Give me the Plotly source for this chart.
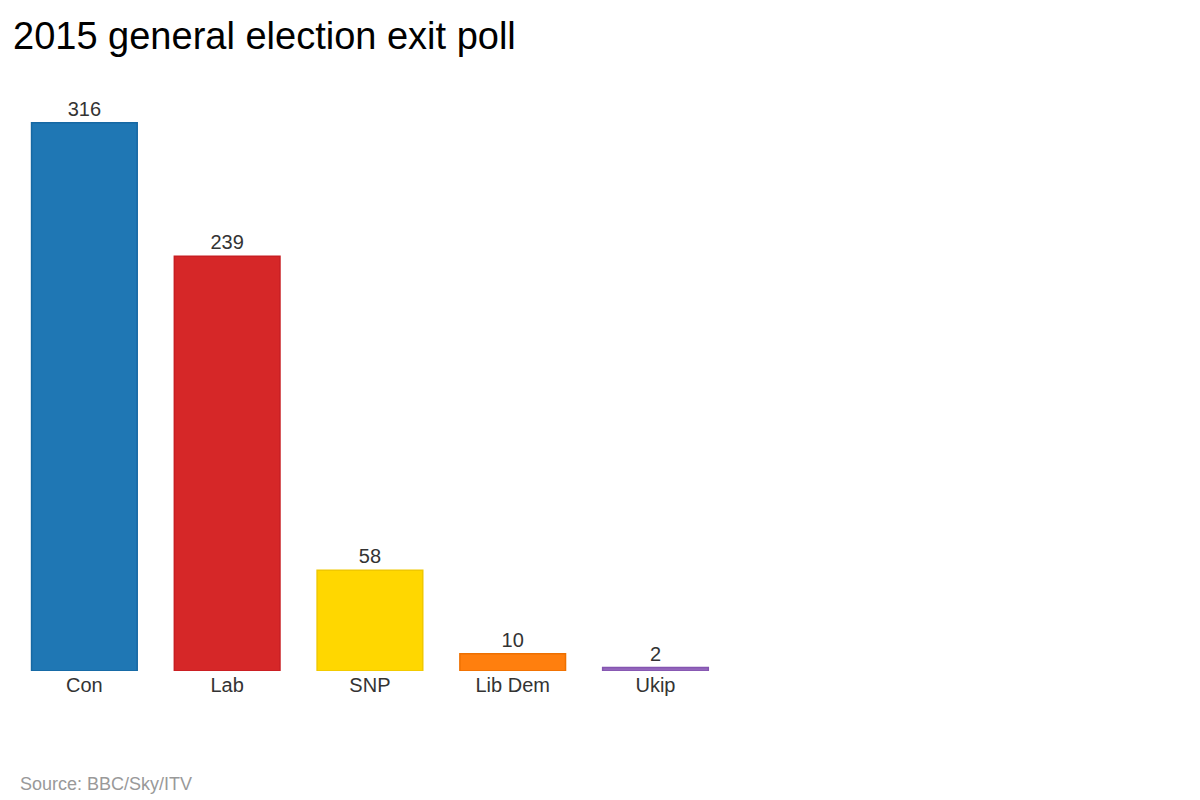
import plotly.graph_objects as go

parties = ["Con", "Lab", "SNP", "Lib Dem", "Ukip"]
seats = [316, 239, 58, 10, 2]
colors = ["#1f77b4", "#d62728", "#ffd700", "#ff7f0e", "#9467bd"]
edges = ["#1668a3", "#c81e22", "#f0c800", "#ee7000", "#8455b0"]

fig = go.Figure(go.Bar(
    x=parties, y=seats,
    marker=dict(color=colors, line=dict(color=edges, width=1.5)),
    text=[str(s) for s in seats], textposition="outside",
    textfont=dict(size=20, color="#333333"),
    cliponaxis=False,
))

fig.update_layout(
    width=1200, height=800,
    plot_bgcolor="white", paper_bgcolor="white",
    font=dict(family="Liberation Sans, Arial, sans-serif"),
    title=dict(text="2015 general election exit poll", x=0, xref="paper", xanchor="left",
               y=0.965, yanchor="middle", font=dict(size=38, color="black")),
    margin=dict(l=5, r=0, t=100, b=137),
    bargap=0.26,
    showlegend=False,
)
fig.update_xaxes(range=[-0.5, 7.87], showline=False, showgrid=False, ticks="",
                 tickfont=dict(size=20, color="#333333"))
fig.update_yaxes(range=[0, 324.5], visible=False)

fig.add_annotation(text="Source: BBC/Sky/ITV", xref="paper", yref="paper",
                   x=0.004, y=-0.2, xanchor="left", yanchor="middle", showarrow=False,
                   font=dict(size=18, color="#999999"))

fig.write_html("out.html")
